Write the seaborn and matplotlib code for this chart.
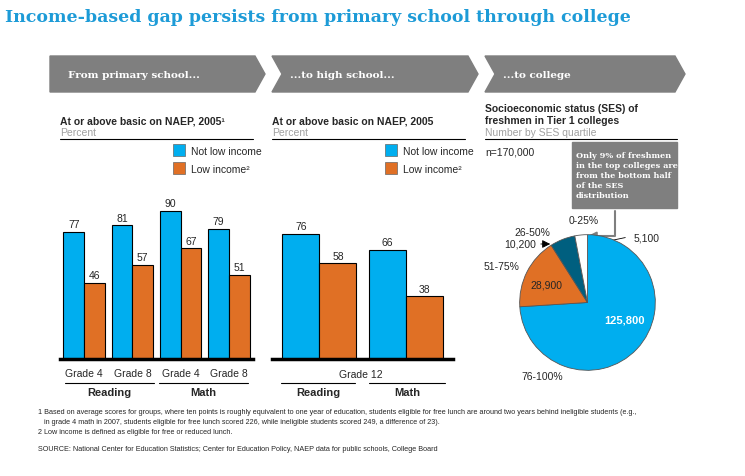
import numpy as np
import pandas as pd
import seaborn as sns
import matplotlib.pyplot as plt
from matplotlib.patches import Polygon, Rectangle

sns.set_theme(style='white')
plt.rcParams['font.family'] = ['Liberation Sans', 'DejaVu Sans']

BLUE = '#00AEEF'
ORANGE = '#E07025'
TEAL = '#005F7F'
GREY = '#7F7F7F'

# data
groups1 = ['R4', 'R8', 'M4', 'M8']
grade_labels1 = ['Grade 4', 'Grade 8', 'Grade 4', 'Grade 8']
not_low1 = [77, 81, 90, 79]
low1 = [46, 57, 67, 51]

groups2 = ['Reading', 'Math']
not_low2 = [76, 66]
low2 = [58, 38]

ses_labels = ['76-100%', '51-75%', '26-50%', '0-25%']
ses_values = [125800, 28900, 10200, 5100]

W, H = 745, 477
fig = plt.figure(figsize=(W / 100, H / 100), dpi=100)

def box(x0, y0, x1, y1):
    return [x0 / W, 1 - y1 / H, (x1 - x0) / W, (y1 - y0) / H]

def ft(x, y, s, **kw):
    fig.text(x / W, 1 - y / H, s, **kw)

ft(5, 17, 'Income-based gap persists from primary school through college', fontsize=12.5,
   color='#1D9BD7', fontweight='bold', family='DejaVu Serif', va='center')

# banners
bg = fig.add_axes([0, 0, 1, 1], zorder=-1)
bg.set_xlim(0, W); bg.set_ylim(H, 0); bg.axis('off')
for x0, x1, txt in [(50, 265, 'From primary school...'), (272, 478, '...to high school...'),
                    (485, 685, '...to college')]:
    pts = [(x0, 57), (x1 - 10, 57), (x1, 75), (x1 - 10, 93), (x0, 93), (x0 + 10, 75)] if x0 > 50 else \
          [(x0, 57), (x1 - 10, 57), (x1, 75), (x1 - 10, 93), (x0, 93)]
    bg.add_patch(Polygon(pts, closed=True, color=GREY))
    bg.text(x0 + 18, 75, txt, color='white', fontsize=7.5, fontweight='bold',
            family='DejaVu Serif', va='center')

# panel headers
for x0, x1, t in [(60, 253, 'At or above basic on NAEP, 2005\u00b9'),
                  (272, 465, 'At or above basic on NAEP, 2005')]:
    ft(x0, 121, t, fontsize=7.5, fontweight='bold', va='center')
    ft(x0, 133, 'Percent', fontsize=7.5, color='#A0A0A0', va='center')
    bg.plot([x0, x1], [140, 140], color='black', lw=0.8)
    lx = x0 + 113
    bg.add_patch(Rectangle((lx, 145), 12, 12, facecolor=BLUE, edgecolor='#666', lw=0.5))
    bg.add_patch(Rectangle((lx, 163), 12, 12, facecolor=ORANGE, edgecolor='#666', lw=0.5))
    bg.text(lx + 18, 152, 'Not low income', fontsize=7.5, va='center')
    bg.text(lx + 18, 170, 'Low income\u00b2', fontsize=7.5, va='center')

def bars(ax, groups, a, b):
    df = pd.DataFrame({'g': groups * 2, 'v': a + b,
                       's': ['Not low income'] * len(groups) + ['Low income'] * len(groups)})
    sns.barplot(data=df, x='g', y='v', hue='s', palette=[BLUE, ORANGE], ax=ax, saturation=1,
                edgecolor='black', linewidth=0.8, width=0.86, legend=False)
    ax.set_ylim(0, 100)
    for c in ax.containers:
        ax.bar_label(c, fontsize=7.5, padding=2)
    ax.set_xlabel(''); ax.set_ylabel('')
    ax.set_yticks([])
    ax.set_xticks([])
    sns.despine(ax=ax, left=True)
    ax.spines['bottom'].set_linewidth(2.5)
    ax.spines['bottom'].set_color('black')
    ax.patch.set_alpha(0)

ax1 = fig.add_axes(box(60, 195, 253, 360))
bars(ax1, groups1, not_low1, low1)
ax1.set_xlim(-0.5, 3.5)
ax2 = fig.add_axes(box(272, 195, 453, 360))
bars(ax2, groups2, not_low2, low2)
ax2.set_xlim(-0.55, 1.55)

# group labels
for i, g in enumerate(grade_labels1):
    x = 60 + (i + 0.5) * 193 / 4
    bg.text(x, 374, g, fontsize=7.5, ha='center', va='center')
for x0, x1, t in [(65, 154, 'Reading'), (159, 248, 'Math')]:
    bg.plot([x0, x1], [384, 384], color='black', lw=0.8)
    bg.text((x0 + x1) / 2, 393, t, fontsize=8, fontweight='bold', ha='center', va='center')
bg.text(361, 375, 'Grade 12', fontsize=7.5, ha='center', va='center')
for x0, x1, t in [(281, 355, 'Reading'), (369, 445, 'Math')]:
    bg.plot([x0, x1], [384, 384], color='black', lw=0.8)
    bg.text((x0 + x1) / 2, 393, t, fontsize=8, fontweight='bold', ha='center', va='center')

# pie panel
ft(485, 109, 'Socioeconomic status (SES) of', fontsize=7.5, fontweight='bold', va='center')
ft(485, 121, 'freshmen in Tier 1 colleges', fontsize=7.5, fontweight='bold', va='center')
ft(485, 133, 'Number by SES quartile', fontsize=7.5, color='#A0A0A0', va='center')
bg.plot([485, 677], [140, 140], color='black', lw=0.8)
ft(485, 153, 'n=170,000', fontsize=7.5, va='center')

ax3 = fig.add_axes(box(519, 235, 656, 372))
ax3.pie(ses_values, colors=[BLUE, ORANGE, TEAL, 'white'], startangle=90, counterclock=False,
        wedgeprops=dict(edgecolor='#555', linewidth=0.6))
ax3.set_xlim(-1.01, 1.01); ax3.set_ylim(-1.01, 1.01)
ax3.set_aspect('equal')
ax3.text(0.55, -0.3, f'{ses_values[0]:,}', color='white', fontsize=8, fontweight='bold', ha='center')
ax3.text(-0.6, 0.22, f'{ses_values[1]:,}', fontsize=7.5, ha='center')

bg.text(484, 267, ses_labels[1], fontsize=7.5, va='center')
bg.text(514, 233, ses_labels[2], fontsize=7.5, va='center')
bg.text(504, 245, f'{ses_values[2]:,}', fontsize=7.5, va='center')
bg.annotate('', xy=(553, 245), xytext=(538, 245), arrowprops=dict(arrowstyle='-|>', lw=0.6, color='black'))
bg.text(569, 221, ses_labels[3], fontsize=7.5, va='center')
bg.text(634, 239, f'{ses_values[3]:,}', fontsize=7.5, va='center')
bg.annotate('', xy=(585, 247), xytext=(628, 238), arrowprops=dict(arrowstyle='-|>', lw=0.6, color='black'))
bg.text(521, 377, ses_labels[0], fontsize=7.5, va='center')

bg.add_patch(Rectangle((572, 143), 105, 66, color=GREY))
bg.text(576, 176, 'Only 9% of freshmen\nin the top colleges are\nfrom the bottom half\nof the SES\ndistribution',
        color='white', fontsize=5.9, fontweight='bold', family='DejaVu Serif', va='center', linespacing=1.3)
bg.annotate('', xy=(585, 237), xytext=(615, 209),
            arrowprops=dict(arrowstyle='-|>', lw=1.5, color=GREY, connectionstyle='angle,angleA=-90,angleB=0'))

fs = 5.2
ft(38, 413, '1 Based on average scores for groups, where ten points is roughly equivalent to one year of education, students eligible for free lunch are around two years behind ineligible students (e.g.,', fontsize=fs, va='center')
ft(44, 423, 'in grade 4 math in 2007, students eligible for free lunch scored 226, while ineligible students scored 249, a difference of 23).', fontsize=fs, va='center')
ft(38, 433, '2 Low income is defined as eligible for free or reduced lunch.', fontsize=fs, va='center')
ft(38, 450, 'SOURCE: National Center for Education Statistics; Center for Education Policy, NAEP data for public schools, College Board', fontsize=fs, va='center')

fig.savefig('out.png', dpi=100)
